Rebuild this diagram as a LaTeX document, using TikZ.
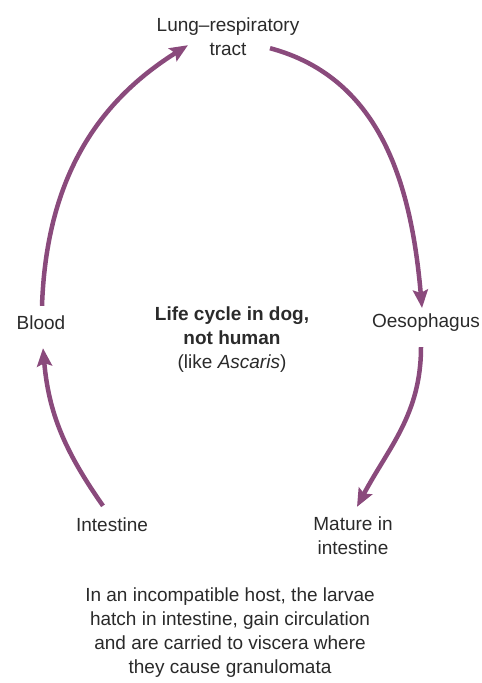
\documentclass[tikz,border=0pt]{standalone}
\usepackage{fontspec}
\setmainfont{Liberation Sans}
\usetikzlibrary{arrows.meta}
\definecolor{cyclepurple}{HTML}{8A4A7C}
\definecolor{labelgrey}{HTML}{2A2A2A}
\tikzset{
  stage/.style={text=labelgrey, inner sep=0pt, align=center, font=\fontsize{19}{24}\selectfont},
  cyclearrow/.style={draw=cyclepurple, line width=4.5pt, -{Stealth[length=18pt,width=15pt,inset=3pt]}},
}
\begin{document}
\begin{tikzpicture}[x=1pt,y=-1pt]
	\useasboundingbox (0,0) rectangle (482,683);
	\node[stage] (lung) at (228,37) {Lung--respiratory\\tract};
	\node[stage] (blood) at (41,323) {Blood};
	\node[stage] (oeso) at (426,323) {Oesophagus};
	\node[stage] (intestine) at (112,525) {Intestine};
	\node[stage] (mature) at (353,536) {Mature in\\intestine};
	\node[stage] (centre) at (232,340) {\textbf{Life cycle in dog,}\\\textbf{not human}\\(like \textit{Ascaris})};
	\node[stage] (note) at (230,633) {In an incompatible host, the larvae\\hatch in intestine, gain circulation\\and are carried to viscera where\\they cause granulomata};
	% the cycle
	\draw[cyclearrow] ([xshift=-9pt,yshift=12pt]intestine.north) to[out=125,in=-85] ([xshift=2pt,yshift=-18pt]blood.south);
	\draw[cyclearrow] ([xshift=1pt,yshift=10pt]blood.north) to[out=88,in=212] ([xshift=-40pt,yshift=11pt]lung.south);
	\draw[cyclearrow] ([xshift=42pt,yshift=8pt]lung.south) to[out=-15,in=95] ([xshift=-4pt,yshift=6pt]oeso.north);
	\draw[cyclearrow] ([xshift=-5pt,yshift=-15pt]oeso.south) to[out=-90,in=62] ([xshift=4pt,yshift=10pt]mature.north);
\end{tikzpicture}
\end{document}
